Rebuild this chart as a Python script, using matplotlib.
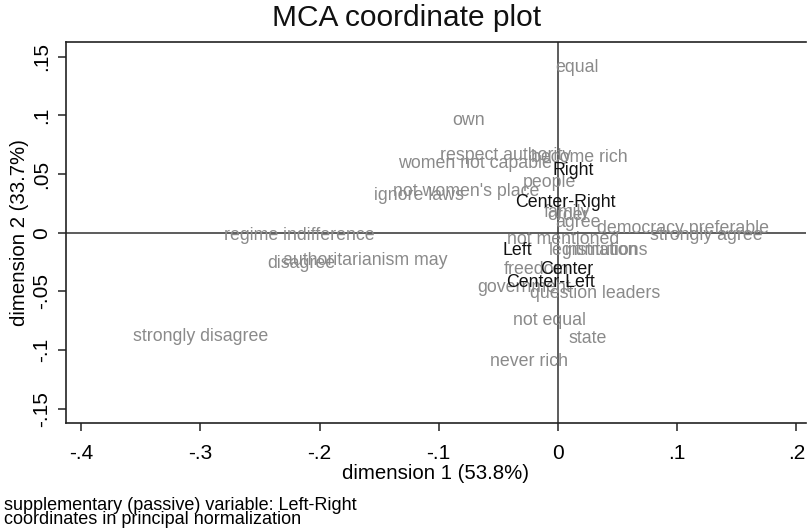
import matplotlib
matplotlib.use("Agg")
import matplotlib.pyplot as plt

plt.rcParams['font.family'] = ['Liberation Sans', 'DejaVu Sans']

# active category coordinates (dimension 1, dimension 2)
cat_labels = ["equal", "own", "respect authority", "become rich", "women not capable",
              "people", "ignore laws", "not women's place", "family", "order", "agree",
              "democracy preferable", "strongly agree", "not mentioned", "institutions",
              "legitimation", "freedom", "government", "question leaders",
              "authoritarianism may", "disagree", "regime indifference", "not equal",
              "state", "never rich", "strongly disagree"]
cat_dim1 = [0.016, -0.075, -0.044, 0.018, -0.070,
            -0.0075, -0.117, -0.077, 0.0075, 0.0085, 0.017,
            0.105, 0.124, 0.004, 0.041,
            0.030, -0.018, -0.028, 0.031,
            -0.162, -0.215, -0.217, -0.0067,
            0.025, -0.0243, -0.300]
cat_dim2 = [0.141, 0.096, 0.066, 0.064, 0.059,
            0.043, 0.032, 0.035, 0.017, 0.015, 0.009,
            0.004, -0.002, -0.006, -0.015,
            -0.015, -0.031, -0.047, -0.052,
            -0.024, -0.026, -0.002, -0.075,
            -0.090, -0.110, -0.088]

# supplementary variable Left-Right
sup_labels = ["Right", "Center-Right", "Left", "Center", "Center-Left"]
sup_dim1 = [0.0126, 0.006, -0.034, 0.007, -0.006]
sup_dim2 = [0.053, 0.026, -0.015, -0.031, -0.042]

xticks = [-0.4, -0.3, -0.2, -0.1, 0, 0.1, 0.2]
xtick_labels = ["-.4", "-.3", "-.2", "-.1", "0", ".1", ".2"]
yticks = [-0.15, -0.1, -0.05, 0, 0.05, 0.1, 0.15]
ytick_labels = ["-.15", "-.1", "-.05", "0", ".05", ".1", ".15"]

W, H, dpi = 807, 528, 100
fig = plt.figure(figsize=(W / dpi, H / dpi), dpi=dpi, facecolor="white")
ax = fig.add_axes([66 / W, 1 - 423 / H, (806 - 66) / W, (423 - 42) / H])

ax.set_xlim(-0.4126, 0.208)
ax.set_ylim(-0.162, 0.1625)

ax.axhline(0, color="#303030", lw=1.1, zorder=1)
ax.axvline(0, color="#303030", lw=1.1, zorder=1)

for lab, x, y in zip(cat_labels, cat_dim1, cat_dim2):
    ax.text(x, y, lab, ha="center", va="center", fontsize=12.8, color="#8a8a8a", zorder=2)
for lab, x, y in zip(sup_labels, sup_dim1, sup_dim2):
    ax.text(x, y, lab, ha="center", va="center", fontsize=12.8, color="#111111", zorder=3)

ax.set_xticks(xticks)
ax.set_xticklabels(xtick_labels, fontsize=15)
ax.set_yticks(yticks)
ax.set_yticklabels(ytick_labels, fontsize=15, rotation=90, va="center")
ax.tick_params(direction="out", length=6, width=1.1, color="#222222")
ax.tick_params(axis="x", pad=9)
ax.tick_params(axis="y", pad=5)

for side in ["left", "bottom", "top"]:
    ax.spines[side].set_linewidth(1.2)
    ax.spines[side].set_color("#222222")
ax.spines["right"].set_visible(False)

ax.set_xlabel("dimension 1 (53.8%)", fontsize=14.7, labelpad=1)
ax.set_ylabel("dimension 2 (33.7%)", fontsize=14.7, labelpad=2)
fig.text(407 / W, 1 - 18 / H, "MCA coordinate plot", ha="center", va="center",
         fontsize=21.5, color="#111111")
fig.text(4 / W, 1 - 505 / H, "supplementary (passive) variable: Left-Right",
         ha="left", va="center", fontsize=13)
fig.text(4 / W, 1 - 519 / H, "coordinates in principal normalization",
         ha="left", va="center", fontsize=13)

fig.savefig("out.png", dpi=dpi)
